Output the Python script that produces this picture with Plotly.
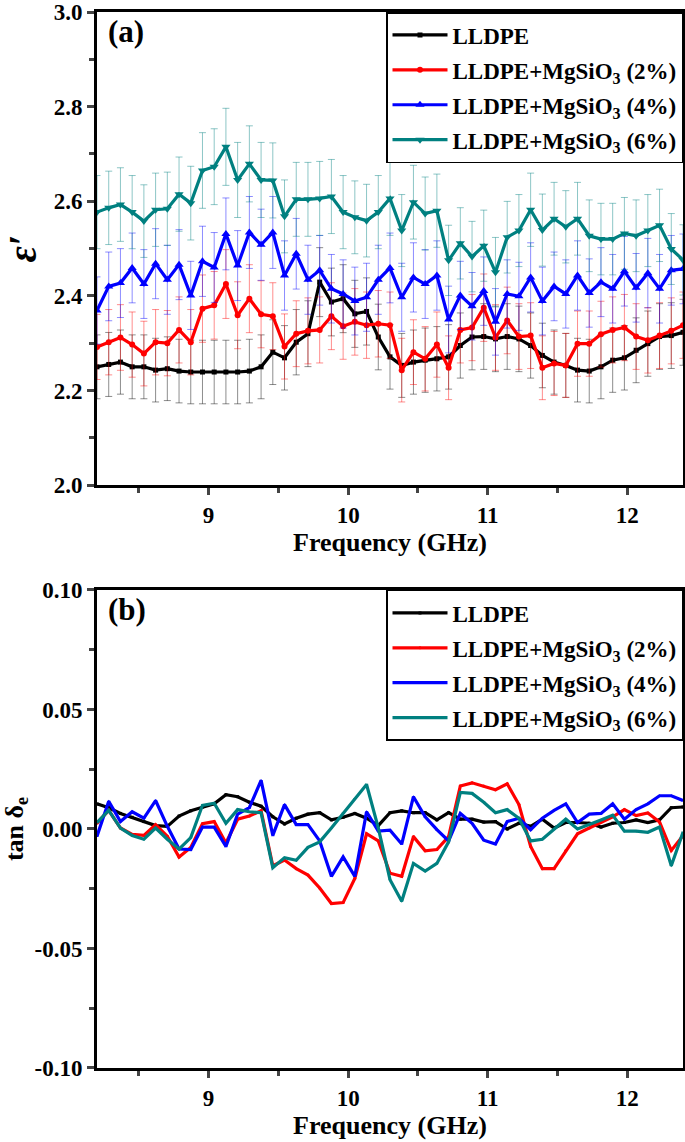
import plotly.graph_objects as go

# ---------------- data ----------------
freq = [8.200, 8.284, 8.368, 8.452, 8.536, 8.620, 8.704, 8.788, 8.872, 8.956,
        9.040, 9.124, 9.208, 9.292, 9.376, 9.460, 9.544, 9.628, 9.712, 9.796,
        9.880, 9.964, 10.048, 10.132, 10.216, 10.300, 10.384, 10.468, 10.552, 10.636,
        10.720, 10.804, 10.888, 10.972, 11.056, 11.140, 11.224, 11.308, 11.392, 11.476,
        11.560, 11.644, 11.728, 11.812, 11.896, 11.980, 12.064, 12.148, 12.232, 12.316,
        12.400]

eps_lldpe = [2.250, 2.255, 2.260, 2.250, 2.250, 2.243, 2.246, 2.241, 2.239, 2.239,
             2.239, 2.239, 2.239, 2.241, 2.250, 2.281, 2.269, 2.302, 2.320, 2.429,
             2.387, 2.394, 2.362, 2.367, 2.313, 2.271, 2.253, 2.260, 2.264, 2.267,
             2.271, 2.295, 2.313, 2.314, 2.309, 2.314, 2.309, 2.295, 2.274, 2.260,
             2.253, 2.243, 2.241, 2.250, 2.264, 2.269, 2.285, 2.299, 2.314, 2.316,
             2.323]
eps_2 = [2.292, 2.302, 2.312, 2.297, 2.278, 2.302, 2.300, 2.328, 2.302, 2.373,
         2.380, 2.425, 2.359, 2.394, 2.361, 2.357, 2.293, 2.320, 2.326, 2.328,
         2.357, 2.336, 2.345, 2.338, 2.341, 2.338, 2.243, 2.281, 2.267, 2.297,
         2.248, 2.328, 2.333, 2.375, 2.312, 2.348, 2.314, 2.316, 2.248, 2.257,
         2.253, 2.299, 2.299, 2.319, 2.328, 2.333, 2.314, 2.306, 2.316, 2.326,
         2.338]
eps_4 = [2.369, 2.420, 2.427, 2.459, 2.425, 2.468, 2.434, 2.466, 2.401, 2.473,
         2.460, 2.531, 2.464, 2.534, 2.508, 2.534, 2.443, 2.489, 2.434, 2.454,
         2.415, 2.404, 2.389, 2.397, 2.434, 2.459, 2.397, 2.439, 2.425, 2.443,
         2.350, 2.401, 2.378, 2.410, 2.345, 2.404, 2.399, 2.439, 2.389, 2.420,
         2.404, 2.443, 2.406, 2.429, 2.415, 2.452, 2.417, 2.448, 2.415, 2.454,
         2.457]
eps_6 = [2.577, 2.586, 2.593, 2.577, 2.558, 2.582, 2.584, 2.615, 2.596, 2.665,
         2.673, 2.715, 2.645, 2.679, 2.645, 2.644, 2.568, 2.604, 2.604, 2.606,
         2.610, 2.577, 2.566, 2.559, 2.577, 2.606, 2.538, 2.598, 2.574, 2.580,
         2.475, 2.511, 2.483, 2.506, 2.450, 2.524, 2.538, 2.582, 2.539, 2.563,
         2.546, 2.563, 2.527, 2.520, 2.520, 2.532, 2.527, 2.538, 2.549, 2.499,
         2.476]

tan_lldpe = [0.0105, 0.0089, 0.0065, 0.0049, 0.0031, 0.0014, 0.0011, 0.0054, 0.0076, 0.0092,
             0.0105, 0.0143, 0.0135, 0.0112, 0.0095, 0.0051, 0.0021, 0.0045, 0.0062, 0.0068,
             0.0038, 0.0049, 0.0065, 0.0045, 0.0014, 0.0068, 0.0076, 0.0068, 0.0068, 0.0038,
             0.0068, 0.0041, 0.0041, 0.0029, 0.0031, 0.0000, 0.0024, 0.0011, 0.0041, 0.0004,
             0.0027, 0.0027, 0.0024, 0.0008, 0.0024, 0.0027, 0.0038, 0.0027, 0.0038, 0.0089,
             0.0092]
tan_2 = [0.0024, 0.0078, 0.0004, -0.0023, -0.0027, 0.0018, -0.0030, -0.0117, -0.0077, 0.0022,
         0.0031, -0.0059, 0.0041, 0.0054, 0.0076, -0.0154, -0.0130, -0.0166, -0.0193, -0.0247,
         -0.0312, -0.0308, -0.0207, -0.0020, -0.0050, -0.0185, -0.0198, -0.0032, -0.0091, -0.0086,
         -0.0032, 0.0180, 0.0193, 0.0180, 0.0164, 0.0189, 0.0102, -0.0073, -0.0166, -0.0166,
         -0.0090, -0.0020, 0.0004, 0.0028, 0.0051, 0.0081, 0.0056, 0.0067, 0.0029, -0.0090,
         -0.0028]
tan_4 = [-0.0030, 0.0116, 0.0031, 0.0072, 0.0045, 0.0119, 0.0011, -0.0084, -0.0086, 0.0008,
         0.0008, -0.0073, 0.0062, 0.0089, 0.0203, -0.0027, 0.0102, 0.0018, 0.0018, -0.0050,
         -0.0198, -0.0117, -0.0198, 0.0072, -0.0009, -0.0005, -0.0063, 0.0135, 0.0051, -0.0003,
         -0.0050, 0.0065, 0.0024, -0.0047, -0.0063, 0.0031, 0.0045, -0.0003, 0.0045, 0.0078,
         0.0105, 0.0027, 0.0062, 0.0065, 0.0105, 0.0041, 0.0081, 0.0105, 0.0139, 0.0139,
         0.0119]
tan_6 = [0.0027, 0.0078, 0.0004, -0.0027, -0.0043, 0.0004, -0.0043, -0.0084, -0.0036, 0.0099,
         0.0108, 0.0024, 0.0081, 0.0072, 0.0068, -0.0162, -0.0120, -0.0131, -0.0077, -0.0054,
         0.0004, 0.0065, 0.0126, 0.0186, 0.0005, -0.0212, -0.0302, -0.0144, -0.0176, -0.0144,
         -0.0054, 0.0153, 0.0149, 0.0112, 0.0068, 0.0081, 0.0045, -0.0050, -0.0043, 0.0000,
         0.0041, 0.0000, 0.0018, 0.0038, 0.0058, -0.0009, -0.0009, -0.0014, 0.0008, -0.0154,
         -0.0014]

err_percent = 3  # error bars (% of value) in panel (a)

names = ["LLDPE", "LLDPE+MgSiO<sub>3</sub> (2%)", "LLDPE+MgSiO<sub>3</sub> (4%)",
         "LLDPE+MgSiO<sub>3</sub> (6%)"]
eps_sets = [eps_lldpe, eps_2, eps_4, eps_6]
tan_sets = [tan_lldpe, tan_2, tan_4, tan_6]

x_ticks = [9, 10, 11, 12]
x_minor = [8.5, 9.5, 10.5, 11.5]
y1_ticks = [2.0, 2.2, 2.4, 2.6, 2.8, 3.0]
y1_text = ["2.0", "2.2", "2.4", "2.6", "2.8", "3.0"]
y1_minor = [2.1, 2.3, 2.5, 2.7, 2.9]
y2_ticks = [-0.10, -0.05, 0.0, 0.05, 0.10]
y2_text = ["-0.10", "-0.05", "0.00", "0.05", "0.10"]
y2_minor = [-0.075, -0.025, 0.025, 0.075]

# ---------------- styles ----------------
colors = ["#000000", "#ff0000", "#0000ff", "#008080"]
err_colors = ["rgba(0,0,0,0.45)", "rgba(255,0,0,0.45)", "rgba(0,0,255,0.45)",
              "rgba(0,128,128,0.45)"]
symbols = ["square", "circle", "triangle-up", "triangle-down"]
msizes = [5, 6, 8, 8]
FONT = "Liberation Serif"
TOP_DOM = [0.552, 1]
BOT_DOM = [0, 0.4527]

fig = go.Figure()
for k, (n, e, c, ec, s, ms) in enumerate(zip(names, eps_sets, colors, err_colors, symbols, msizes)):
    fig.add_trace(go.Scatter(
        x=freq, y=e, name=n, mode="lines+markers", xaxis="x", yaxis="y",
        line=dict(color=c, width=3.2), marker=dict(symbol=s, size=ms, color=c),
        error_y=dict(type="percent", value=err_percent, color=ec, thickness=1, width=3.5),
        legend="legend", legendgroup="a%d" % k))
for k, (n, t, c, s) in enumerate(zip(names, tan_sets, colors, symbols)):
    fig.add_trace(go.Scatter(
        x=freq, y=t, name=n, mode="lines+markers", xaxis="x2", yaxis="y2",
        line=dict(color=c, width=3.2), marker=dict(symbol=s, size=3, color=c),
        legend="legend2", legendgroup="b%d" % k))

tickfont = dict(family=FONT, size=23, color="black", weight="bold")
titlefont = dict(family=FONT, size=26, color="black", weight="bold")

def xaxis_cfg(anchor):
    return dict(anchor=anchor, domain=[0, 1], range=[8.2, 12.4], automargin=False,
                tickmode="array", tickvals=x_ticks, ticks="outside", ticklen=7, tickwidth=2.5,
                minor=dict(tickmode="array", tickvals=x_minor, ticks="outside", ticklen=5, tickwidth=2.5),
                showline=True, linewidth=3, linecolor="black", mirror=True,
                showgrid=False, zeroline=False, tickfont=tickfont,
                title=dict(text="Frequency (GHz)", font=titlefont, standoff=4))

legend_common = dict(x=1, xanchor="right", yanchor="top", xref="paper", yref="paper",
                     bordercolor="black", borderwidth=1.5, bgcolor="white",
                     font=dict(family=FONT, size=23, color="black", weight="bold"),
                     itemwidth=55, tracegroupgap=2)

fig.update_layout(
    width=685, height=1142,
    margin=dict(l=97, r=2, t=12, b=74),
    plot_bgcolor="white", paper_bgcolor="white",
    font=dict(family=FONT, color="black"),
    xaxis=xaxis_cfg("y"),
    xaxis2=xaxis_cfg("y2"),
    yaxis=dict(anchor="x", domain=TOP_DOM, range=[2.0, 3.0], automargin=False,
               tickmode="array", tickvals=y1_ticks, ticktext=y1_text, ticklabeloverflow="allow",
               ticks="outside", ticklen=7, tickwidth=2.5,
               minor=dict(tickmode="array", tickvals=y1_minor, ticks="outside", ticklen=5, tickwidth=2.5),
               showline=True, linewidth=3, linecolor="black", mirror=True,
               showgrid=False, zeroline=False, tickfont=tickfont,
               title=dict(text="<i>ε′</i>", font=dict(family=FONT, size=40, color="black", weight="bold"),
                          standoff=10)),
    yaxis2=dict(anchor="x2", domain=BOT_DOM, range=[-0.1, 0.1], automargin=False,
                tickmode="array", tickvals=y2_ticks, ticktext=y2_text, ticklabeloverflow="allow",
                ticks="outside", ticklen=7, tickwidth=2.5,
                minor=dict(tickmode="array", tickvals=y2_minor, ticks="outside", ticklen=5, tickwidth=2.5),
                showline=True, linewidth=3, linecolor="black", mirror=True,
                showgrid=False, zeroline=False, tickfont=tickfont,
                title=dict(text="tan δ<sub>e</sub>", font=titlefont, standoff=8)),
    legend=dict(y=TOP_DOM[1], **legend_common),
    legend2=dict(y=BOT_DOM[1], **legend_common),
    annotations=[
        dict(text="(a)", xref="x domain", yref="y domain", x=0.015, y=1.0,
             xanchor="left", yanchor="top", showarrow=False,
             font=dict(family=FONT, size=31, color="black", weight="bold")),
        dict(text="(b)", xref="x2 domain", yref="y2 domain", x=0.015, y=1.0,
             xanchor="left", yanchor="top", showarrow=False,
             font=dict(family=FONT, size=31, color="black", weight="bold")),
    ],
)

fig.write_html("out.html", config={"displayModeBar": False},
               post_script="document.body.style.margin='0';document.body.style.overflow='hidden';")
